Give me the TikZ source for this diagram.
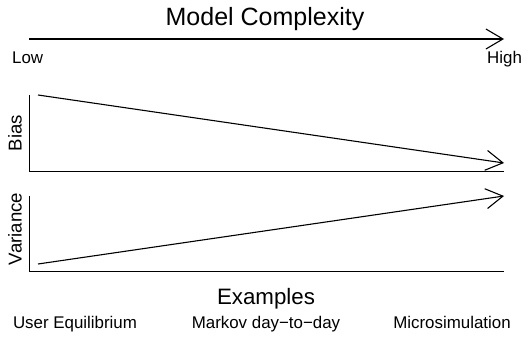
\documentclass[tikz,border=0pt]{standalone}
\usepackage{fontspec}
\setmainfont{Liberation Sans}
\usetikzlibrary{positioning,arrows.meta}

\begin{document}
\begin{tikzpicture}
                [x=1pt,y=-1pt,
                lbl/.style={inner sep=0pt,anchor=base,font=\fontsize{16.9}{20}\selectfont},
                ttl/.style={inner sep=0pt,anchor=base,font=\fontsize{25}{30}\selectfont},
                axl/.style={inner sep=0pt,rotate=90,font=\fontsize{18.6}{22}\selectfont},
                ax/.style={line width=0.9pt},
                trend/.style={line width=1.1pt,-{Straight Barb[length=17pt,width=20pt,line width=1.1pt]}}]
                \useasboundingbox (0,0) rectangle (530,347);
                % complexity axis
                \coordinate (lo) at (29,39);
                \coordinate (hi) at (504,39);
                \node[ttl] (title) at (265,26) {Model Complexity};
                \node[lbl,anchor=base west] (low) at (12,64) {Low};
                \node[lbl,anchor=base west] (high) at (487,64) {High};
                % bias panel
                \coordinate (btop) at (29.5,95);
                \coordinate (borg) at (29.5,171);
                \coordinate (bend) at (504,171);
                \coordinate (bstart) at (38,95);
                \coordinate (bstop) at (504,163);
                \node[axl] (bias) at (15,133) {Bias};
                % variance panel
                \coordinate (vtop) at (29.5,196);
                \coordinate (vorg) at (29.5,271);
                \coordinate (vend) at (504,271);
                \coordinate (vstart) at (38,264);
                \coordinate (vstop) at (504,196);
                \node[axl] (var) at (15,229) {Variance};
                % examples
                \node[ttl,font=\fontsize{22.3}{26}\selectfont] (ex) at (266,305) {Examples};
                \node[lbl] (ue) at (75,328) {User Equilibrium};
                \node[lbl] (mk) at (266,328) {Markov day−to−day};
                \node[lbl] (ms) at (452,328) {Microsimulation};
                \draw[trend] (lo) -- (hi);
                \draw[ax] (btop) -- (borg) -- (bend);
                \draw[trend] (bstart) -- (bstop);
                \draw[ax] (vtop) -- (vorg) -- (vend);
                \draw[trend] (vstart) -- (vstop);
            \end{tikzpicture}
\end{document}
